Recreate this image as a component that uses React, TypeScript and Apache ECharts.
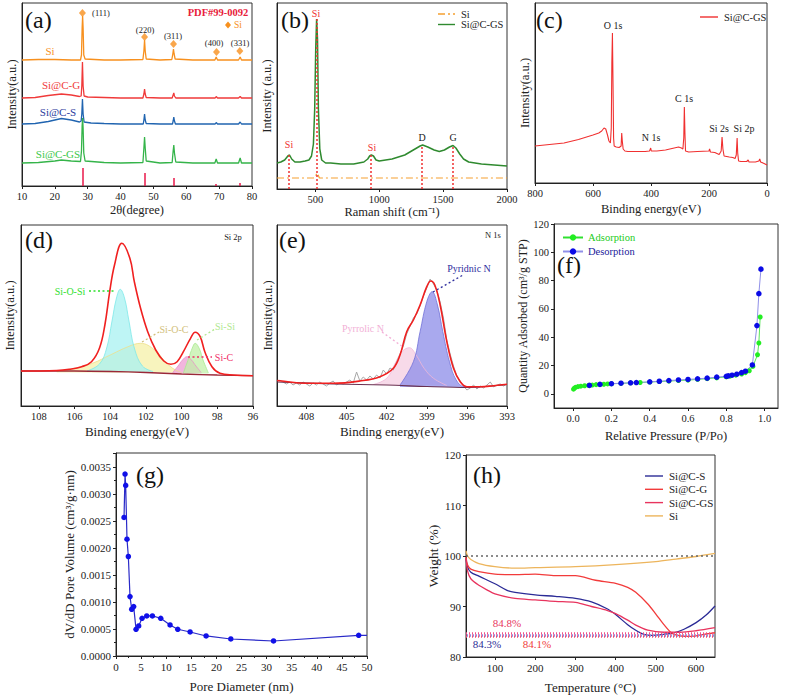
import React, { useEffect, useRef } from "react";
import * as echarts from "echarts";

const FONT = "Liberation Serif";

// ---------- (a) XRD ----------
const xrdSi = [[10,126],[15,126.5],[20,126.5],[25,126],[27.8,126],[28.1,131],[28.3,158],[28.45,170],[28.6,158],[28.8,131],[29.2,127],[35,126],[40,126],[46.8,126.5],[47.1,135],[47.3,146],[47.5,135],[47.8,127],[52,126],[55.6,126.5],[55.9,132],[56.1,137],[56.3,132],[56.6,127],[62,126],[68.7,126],[69.1,129],[69.5,126],[75.9,126],[76.4,129],[76.8,126],[80,126]];
const xrdSiCG = [[10,88],[14,88.5],[18,90.5],[22,92],[25,91],[27.5,89.5],[28.0,90],[28.2,100],[28.4,124],[28.6,100],[28.9,90],[30,89],[35,88.5],[40,88],[46.8,88],[47.1,92],[47.3,97],[47.5,92],[47.8,88.5],[52,88],[55.7,88],[56.0,91],[56.2,93],[56.4,90],[56.8,88],[62,88],[68.8,88],[69.1,89.5],[69.5,88],[75.9,88],[76.4,89.5],[76.8,88],[80,88]];
const xrdSiCS = [[10,62],[14,62.5],[18,64.5],[22,67.5],[25,66],[27.5,64],[28.0,65],[28.2,72],[28.4,87],[28.6,72],[28.9,64],[31,63],[35,62.5],[40,62],[46.9,62],[47.1,66],[47.3,72],[47.5,66],[47.8,62.5],[52,62],[55.8,62],[56.0,65],[56.2,69],[56.4,65],[56.7,62],[62,62],[68.8,62],[69.1,63.5],[69.5,62],[75.9,62],[76.4,64],[76.8,62],[80,62]];
const xrdSiCGS = [[10,23],[15,23.5],[20,25],[22,26],[25,25],[27.8,24.5],[28.1,35],[28.3,60],[28.45,68],[28.6,58],[28.8,33],[29.2,25],[35,23.5],[40,23],[46.8,23.5],[47.1,38],[47.3,49],[47.5,38],[47.8,25],[52,23],[55.7,23.5],[56.0,35],[56.2,41],[56.4,33],[56.8,24],[62,23],[68.7,23],[69.1,27],[69.5,23],[75.9,23],[76.4,28],[76.8,23],[80,23]];
const xrdRefSticks = [[28.4,18],[47.3,13],[56.1,8],[69.1,2],[76.4,3]];
const xrdMarkers = [[28.4,173],[47.3,149],[56.1,142],[69.2,134],[76.3,135]];

// ---------- (b) Raman ----------
const ramanSiCGS = [[200,26],[230,27],[260,29],[285,33],[298,34],[315,30],[340,27],[380,27],[420,28],[450,29],[470,33],[485,45],[495,80],[503,140],[510,170],[517,150],[524,80],[535,40],[550,29],[580,26],[620,26],[700,25],[800,25],[880,27],[910,30],[925,33],[938,34],[955,33],[975,29],[1000,28],[1100,30],[1200,34],[1280,40],[1320,43],[1340,44],[1380,42],[1430,39],[1470,37.5],[1510,39],[1550,42],[1578,43.5],[1600,41],[1630,35],[1660,30],[1700,27],[1800,25],[1900,24],[2000,23]];
const ramanSi = [[200,11],[485,11],[500,12],[512,16],[522,14],[532,11],[2000,11]];
const ramanPeakLines = [[293,34],[513,170],[937,34],[1333,44],[1575,43.5]];

// ---------- (c) XPS survey ----------
const xpsSurvey = [[800,37],[750,38.5],[700,40],[650,43.5],[600,48],[580,50],[570,52],[562,55],[556,54],[550,48],[545,42],[540,40],[537,55],[535,120],[533,150],[531,100],[529,45],[527,37],[520,36],[510,35.5],[503,37],[501,50],[499,42],[496,34],[490,32],[480,31.5],[450,31.5],[420,31.5],[405,32],[401,35],[399,32],[380,32],[350,33],[320,35],[305,36],[295,35],[290,34],[287,45],[285,76],[283,50],[281,32],[270,31],[240,31.5],[200,32],[198,34],[195,31],[180,30.5],[165,28.5],[158,32],[155,46],[152,34],[148,27],[130,26],[118,25.5],[110,24.5],[106,28],[103,45],[101,30],[98,22],[90,21.5],[70,21.5],[65,23],[62,21],[40,21],[28,22],[25,24],[22,21],[10,19.5],[0,18]];

// ---------- (d) Si 2p ----------
const si2pEnvelope = [[109,35],[107,35.5],[106.3,36.7],[105.6,39.3],[105.05,44.3],[104.6,58],[104.3,81],[104.03,114.3],[103.76,141],[103.35,162.7],[102.9,147.7],[102.65,124.3],[102.3,97.7],[101.9,74.3],[101.45,56],[101,45],[100.6,41.7],[100.25,44.3],[99.9,54.3],[99.5,67.7],[99.24,73.7],[98.96,69.3],[98.7,54.3],[98.3,39.3],[97.85,32.7],[97.1,31],[96,30.3]];
const si2pBackground = [[109,35],[106,35],[104,34.5],[102,33.5],[100,32],[98,31],[96,30.3]];
const si2pSiOSi = [[105.3,35],[104.6,42],[104.2,58],[103.9,85],[103.65,108],[103.44,116.7],[103.2,108],[102.95,85],[102.65,58],[102.2,40],[101.6,34.5]];
const si2pSiOC = [[107,35],[106,37.7],[105,42.7],[104,51],[103,59.3],[102.3,62.7],[101.5,56],[101,46],[100.5,37.7],[100,33.5]];
const si2pSiC = [[100.5,33.5],[100.2,40],[99.95,46],[99.7,49.3],[99.45,46],[99.2,40],[98.9,33.5]];
const si2pSiSi = [[99.9,33],[99.6,48],[99.4,58],[99.24,62.7],[99.0,57],[98.8,46],[98.5,33]];

// ---------- (e) N 1s ----------
const n1sRaw = [[410,26],[409.75,24],[409.5,22],[409.25,24],[409,21],[408.75,23],[408.5,21],[408.25,24],[408,22],[407.75,20],[407.5,23],[407.25,21],[407,24],[406.75,22],[406.5,20],[406.25,23],[406,25],[405.75,21],[405.5,23],[405.25,22],[405,24],[404.75,26],[404.5,23],[404.25,34],[404,25],[403.75,29],[403.5,26],[403.25,30],[403,27],[402.75,31],[402.5,28],[402.25,36],[402,32],[401.75,38],[401.5,36],[401.25,45],[401,52],[400.75,60],[400.5,72],[400.25,80],[400,88],[399.75,92],[399.5,100],[399.25,110],[399,118],[398.75,127],[398.5,122],[398.25,116],[398,104],[397.75,88],[397.5,66],[397.25,52],[397,40],[396.75,30],[396.5,25],[396.25,20],[396,16],[395.75,18],[395.5,21],[395.25,17],[395,20],[394.75,18],[394.5,21],[394.25,24],[394,19],[393.75,21],[393.5,22],[393.25,20],[393,22]];
const n1sEnvelope = [[410.2,25.5],[410,25.3],[408,22.7],[406,22.7],[404,25],[402.5,29.3],[401.5,37.7],[401,51],[400.5,74.3],[400,86],[399.5,101],[399,119.3],[398.7,125],[398.4,121],[398,101],[397.5,64.3],[397,37.7],[396.5,24.3],[396,19.3],[395,19.3],[394,20.3],[393,21.7]];
const n1sBackground = [[410.2,24],[406,22],[402,21],[399,19.5],[396,18.5],[393,21.5]];
const n1sPyridinic = [[401,21],[400,44.3],[399.5,74.3],[399,104.3],[398.6,114.3],[398.2,101],[397.8,74.3],[397.3,44.3],[396.8,26],[396.2,19.3],[395,18.7]];
const n1sPyrrolic = [[403,21.5],[402,27.7],[401.3,44.3],[400.8,55],[400.3,58.3],[399.8,51],[399.2,37.7],[398.5,27.7],[397.5,20.5]];

// ---------- (f) N2 isotherm ----------
const adsorption = [[0.002,3.3],[0.006,4.0],[0.012,4.6],[0.025,5.1],[0.04,5.4],[0.06,5.7],[0.08,6.0],[0.1,6.2],[0.12,6.5],[0.14,6.6],[0.16,6.8],[0.18,7.0],[0.2,7.1],[0.25,7.4],[0.3,7.7],[0.35,8.0],[0.4,8.3],[0.45,8.7],[0.5,9.0],[0.55,9.4],[0.6,9.7],[0.65,10.2],[0.7,10.7],[0.75,11.3],[0.8,12.0],[0.82,12.5],[0.85,13.2],[0.88,14.0],[0.9,15.0],[0.92,16.3],[0.939,19.4],[0.963,27.6],[0.970,35.9],[0.977,54.3]];
const desorption = [[0.981,88.1],[0.970,70.8],[0.960,48.2],[0.936,20.4],[0.9,16.0],[0.88,15.0],[0.855,13.9],[0.83,13.2],[0.81,12.7],[0.8,12.4],[0.75,11.8],[0.7,11.1],[0.65,10.6],[0.6,10.2],[0.55,9.8],[0.5,9.4],[0.45,8.9],[0.4,8.5],[0.33,8.0],[0.3,7.8],[0.25,7.5],[0.2,7.2],[0.14,6.7],[0.085,6.0]];

// ---------- (g) pore size distribution ----------
const poreDist = [[1.6,0.002566],[1.8,0.00337],[1.93,0.00316],[2.19,0.002164],[2.46,0.001843],[2.79,0.0011],[3.13,0.000866],[3.52,0.000915],[3.99,0.000495],[4.52,0.000557],[5.19,0.000699],[6.12,0.000742],[7.25,0.000742],[8.91,0.000699],[10.77,0.000575],[12.3,0.000495],[14.76,0.000445],[17.95,0.000371],[22.87,0.000315],[31.38,0.000278],[48.34,0.000383]];
const poreTail = [[48.34,0.000383],[50,0.000383]];

// ---------- (h) TGA ----------
const tgaSiCS = [[28,99.5],[32,97.8],[40,96.8],[60,96],[100,94.5],[130,93.2],[150,92.8],[200,92.3],[250,92.0],[300,91.6],[340,90.9],[380,89.5],[400,88.4],[430,86.4],[450,85.3],[470,84.5],[490,84.3],[520,84.5],[545,84.8],[570,85.5],[600,86.8],[625,88.3],[647,90.1]];
const tgaSiCG = [[28,99.8],[32,98.2],[40,97.4],[60,96.9],[100,96.4],[150,96.3],[200,96.4],[250,96.1],[300,96.1],[350,95.2],[400,94.6],[430,93.8],[450,92.8],[480,90.5],[500,88.5],[520,86.4],[540,84.7],[560,84.2],[580,84.1],[600,84.2],[620,84.5],[647,84.8]];
const tgaSiCGS = [[28,99.6],[32,97],[40,95.5],[60,94.2],[80,93.3],[100,92.5],[150,91.6],[200,91.3],[250,91.0],[300,90.8],[340,90.0],[380,89.2],[400,88.6],[430,87.3],[450,86.3],[480,85.3],[520,84.9],[560,84.9],[600,85.2],[647,85.8]];
const tgaSi = [[28,101],[32,100],[40,99.3],[60,98.5],[100,97.9],[150,97.6],[200,97.7],[300,97.9],[400,98.3],[500,98.9],[550,99.4],[600,99.9],[647,100.5]];
const tgaResidues = [[84.8,"#F0508A",0],[84.3,"#8C8CE6",1.5],[84.1,"#F05070",0]];

// legend entries (name, colour, dash)
const legendB = [["Si", "#F5A030", [7, 3, 2, 3]], ["Si@C-GS", "#2F8A2F", null]];
const legendC = [["Si@C-GS", "#F03030", null]];
const legendH = [["Si@C-S", "#2B2B96", null], ["Si@C-G", "#F23B3B", null], ["Si@C-GS", "#E8345E", null], ["Si", "#EDB55C", null]];

const nameOf = (n: string) => n.split(":")[1];

function T(x: number, y: number, text: string, fill = "#222", size = 11, align = "center", weight = "normal") {
  return {
    type: "text", x, y, z: 100, silent: true,
    style: { text, fill, fontFamily: FONT, fontSize: size, fontWeight: weight, textAlign: align, textVerticalAlign: "middle", align, verticalAlign: "middle" },
  };
}
function DL(x1: number, y1: number, x2: number, y2: number, stroke: string) {
  return { type: "line", z: 100, silent: true, shape: { x1, y1, x2, y2 }, style: { stroke, lineWidth: 1.3, lineDash: [2, 2.5] } };
}
function legendBlock(items: any[], x: number, y: number, step: number, lineLen: number, size: number) {
  const out: any[] = [];
  items.forEach(([name, color, dash], i) => {
    const yy = y + i * step;
    out.push({ type: "line", z: 100, silent: true, shape: { x1: x, y1: yy, x2: x + lineLen, y2: yy },
      style: { stroke: color, lineWidth: 1.4, lineDash: dash || null } });
    out.push(T(x + lineLen + 6, yy, name, "#222", size, "left"));
  });
  return out;
}

export default function App() {
  const ref = useRef<HTMLDivElement>(null);
  useEffect(() => {
    if (!ref.current) return;
    const chart = echarts.init(ref.current, null, { renderer: "svg" });

    const gridPos = [
      { left: 22, top: 3, width: 230, height: 183 },
      { left: 277, top: 3, width: 230, height: 186 },
      { left: 535, top: 3, width: 232, height: 180 },
      { left: 21, top: 225, width: 232, height: 181 },
      { left: 277, top: 225, width: 230, height: 181 },
      { left: 554, top: 224, width: 224, height: 184 },
      { left: 116, top: 453, width: 251, height: 203 },
      { left: 466, top: 455, width: 249, height: 202 },
    ];
    const grid = gridPos.map((g) => ({ ...g, show: true, borderColor: "#333", borderWidth: 1, backgroundColor: "transparent", containLabel: false, outerBoundsMode: "none" }));

    const lab = { fontFamily: FONT, fontSize: 11, color: "#222", margin: 5 };
    const nts = { fontFamily: FONT, fontSize: 13, color: "#222" };
    const base = (gi: number, o: any) => ({
      type: "value", gridIndex: gi, nameLocation: "middle",
      axisLine: { show: true, onZero: false, lineStyle: { color: "#222", width: 1 } },
      axisTick: { show: true, length: 3, lineStyle: { color: "#222" } },
      splitLine: { show: false },
      ...o,
      axisLabel: { ...lab, ...(o.axisLabel || {}) },
      nameTextStyle: { ...nts, ...(o.nameTextStyle || {}) },
    });
    const hiddenY = (gi: number, max: number, name: string, gap = 4) =>
      base(gi, { min: 0, max, name, nameGap: gap, axisLabel: { show: false }, axisTick: { show: false }, nameTextStyle: { fontSize: 12.5 } });
    const tk = (vals: number[]) => ({ show: true, length: 3, customValues: vals, lineStyle: { color: "#222" } });

    const xAxis = [
      base(0, { min: 10, max: 80, interval: 10, name: "2θ(degree)", nameGap: 17, nameTextStyle: { fontSize: 12.5 }, axisLabel: { fontSize: 10.5 } }),
      base(1, { min: 200, max: 2000, name: "Raman shift (cm⁻¹)", nameGap: 16, nameTextStyle: { fontSize: 12.5 },
        axisLabel: { fontSize: 10.5, customValues: [500, 1000, 1500, 2000], formatter: (v: number) => String(v) }, axisTick: tk([500, 1000, 1500, 2000]) }),
      base(2, { min: 0, max: 800, interval: 200, inverse: true, name: "Binding energy(eV)", nameGap: 19, nameTextStyle: { fontSize: 12.5 }, axisLabel: { fontSize: 10.5 } }),
      base(3, { min: 96, max: 109, inverse: true, name: "Binding energy(eV)", nameGap: 19,
        axisLabel: { fontSize: 10.5, customValues: [96, 98, 100, 102, 104, 106, 108] }, axisTick: tk([96, 98, 100, 102, 104, 106, 108]) }),
      base(4, { min: 393, max: 410.2, interval: 3, inverse: true, name: "Binding energy(eV)", nameGap: 19, axisLabel: { fontSize: 10.5, showMaxLabel: false } }),
      base(5, { min: -0.1, max: 1.07, name: "Relative Pressure (P/Po)", nameGap: 21, nameTextStyle: { fontSize: 12.5 },
        axisLabel: { fontSize: 10.5, customValues: [0, 0.2, 0.4, 0.6, 0.8, 1.0], formatter: (v: number) => v.toFixed(1) }, axisTick: tk([0, 0.2, 0.4, 0.6, 0.8, 1.0]) }),
      base(6, { min: 0, max: 50, interval: 5, name: "Pore Diameter (nm)", nameGap: 24, minorTick: { show: true, splitNumber: 2, length: 2 } }),
      base(7, { min: 28, max: 647, name: "Temperature (°C)", nameGap: 24,
        axisLabel: { customValues: [100, 200, 300, 400, 500, 600] }, axisTick: tk([100, 200, 300, 400, 500, 600]) }),
    ];
    const yAxis = [
      hiddenY(0, 183, "Intensity(a.u.)"),
      hiddenY(1, 186, "Intensity (a.u.)"),
      hiddenY(2, 180, "Intensity(a.u.)"),
      hiddenY(3, 181, "Intensity(a.u.)", 5),
      hiddenY(4, 181, "Intensity(a.u.)", 3),
      base(5, { min: -10, max: 120, name: "Quantity Adsorbed (cm³/g STP)", nameGap: 22, nameTextStyle: { fontSize: 12 },
        axisLabel: { fontSize: 10.5, customValues: [0, 20, 40, 60, 80, 100, 120] }, axisTick: tk([0, 20, 40, 60, 80, 100, 120]) }),
      base(6, { min: 0, max: 0.00376, interval: 0.0005, name: "dV/dD Pore Volume (cm³/g·nm)", nameGap: 40,
        axisLabel: { showMaxLabel: false, formatter: (v: number) => v.toFixed(4) }, minorTick: { show: true, splitNumber: 2, length: 2 } }),
      base(7, { min: 80, max: 120, interval: 10, name: "Weight (%)", nameGap: 24, nameTextStyle: { fontSize: 13.5 } }),
    ];

    const L = (name: string, gi: number, data: any[], color: string, width = 1.2, extra: any = {}) => ({
      type: "line", name, xAxisIndex: gi, yAxisIndex: gi, data, symbol: "none", silent: true,
      lineStyle: { color, width }, itemStyle: { color }, ...extra,
    });
    const A = (name: string, gi: number, data: any[], line: string, fill: string, origin: number, opacity = 0.7) =>
      L(name, gi, data, line, 0.8, { smooth: 0.4, areaStyle: { color: fill, opacity, origin } });

    const series: any[] = [
      // (a)
      L("a:Si", 0, xrdSi, "#F7901E", 1.3),
      L("a:Si@C-G", 0, xrdSiCG, "#F03A3A", 1.3),
      L("a:Si@C-S", 0, xrdSiCS, "#2064B0", 1.3),
      L("a:Si@C-GS", 0, xrdSiCGS, "#35B44A", 1.3, {
        markLine: { silent: true, symbol: ["none", "none"], label: { show: false },
          lineStyle: { color: "#E8194A", width: 1.5, type: "solid" },
          data: xrdRefSticks.map(([x, h]) => [{ coord: [x, 0] }, { coord: [x, h] }]) },
      }),
      { type: "scatter", name: "a:markers", xAxisIndex: 0, yAxisIndex: 0, data: xrdMarkers, symbol: "diamond", symbolSize: [7, 8], itemStyle: { color: "#F7901E" }, silent: true },
      // (b)
      L("b:Si", 1, ramanSi, "#F5A030", 1.2, { lineStyle: { color: "#F5A030", width: 1.2, type: [7, 3, 2, 3] } }),
      L("b:Si@C-GS", 1, ramanSiCGS, "#2F8A2F", 1.5, {
        markLine: { silent: true, symbol: ["none", "none"], label: { show: false },
          lineStyle: { color: "#F03030", width: 1.5, type: [2, 2] },
          data: ramanPeakLines.map(([x, h]) => [{ coord: [x, 0] }, { coord: [x, h] }]) },
      }),
      // (c)
      L("c:Si@C-GS", 2, xpsSurvey, "#F03030", 1.1),
      // (d)
      A("d:SiOC", 3, si2pSiOC, "#EDE08A", "#F6F0A8", 33.5, 0.75),
      A("d:SiOSi", 3, si2pSiOSi, "#7EE8E8", "#A8F2F2", 34, 0.75),
      A("d:SiC", 3, si2pSiC, "#E890C8", "#F0A8D8", 32.5, 0.85),
      A("d:SiSi", 3, si2pSiSi, "#A8E890", "#C2F0A8", 32.5, 0.75),
      L("d:bg", 3, si2pBackground, "#9A2838", 1.3, { smooth: 0.3 }),
      L("d:env", 3, si2pEnvelope, "#F02020", 1.6, { smooth: 0.4 }),
      // (e)
      L("e:raw", 4, n1sRaw, "#A8A8A8", 1),
      A("e:pyrrolic", 4, n1sPyrrolic, "#F0B8D8", "#F4CDE2", 21, 0.75),
      A("e:pyridinic", 4, n1sPyridinic, "#7070D8", "#8C8CE8", 19, 0.75),
      L("e:bg", 4, n1sBackground, "#6A3050", 1.2, { smooth: 0.3 }),
      L("e:env", 4, n1sEnvelope, "#F02020", 1.6, { smooth: 0.4 }),
      // (f)
      { type: "line", name: "f:Adsorption", xAxisIndex: 5, yAxisIndex: 5, data: adsorption, symbol: "circle", symbolSize: 5, silent: true,
        lineStyle: { color: "#30E030", width: 0.8 }, itemStyle: { color: "#22EE22" } },
      { type: "line", name: "f:Desorption", xAxisIndex: 5, yAxisIndex: 5, data: desorption, symbol: "circle", symbolSize: 5.5, silent: true,
        lineStyle: { color: "#9090E8", width: 1 }, itemStyle: { color: "#0A0AE6" } },
      // (g)
      { type: "line", name: "g:pore", xAxisIndex: 6, yAxisIndex: 6, data: poreDist, symbol: "circle", symbolSize: 5.5, silent: true,
        lineStyle: { color: "#2A2AC8", width: 1.2 }, itemStyle: { color: "#1010E8" } },
      L("g:tail", 6, poreTail, "#2A2AC8", 1.2),
      // (h)
      L("h:Si@C-S", 7, tgaSiCS, "#2B2B96", 1.3, { smooth: 0.3 }),
      L("h:Si@C-G", 7, tgaSiCG, "#F23B3B", 1.3, { smooth: 0.3 }),
      L("h:Si@C-GS", 7, tgaSiCGS, "#E8345E", 1.3, { smooth: 0.3 }),
      L("h:Si", 7, tgaSi, "#EDB55C", 1.3, { smooth: 0.3,
        markLine: { silent: true, symbol: ["none", "none"], label: { show: false },
          data: [
            { yAxis: 100, lineStyle: { color: "#666", width: 1.5, type: [2, 3] } },
            ...tgaResidues.map(([v, c, off]) => ({ yAxis: v, lineStyle: { color: c, width: 2.5, type: [1, 2], dashOffset: off } })),
          ] },
      }),
    ];

    const legendText = { fontFamily: FONT, fontSize: 10.5, color: "#222" };
    const legend = [
      { left: 557, top: 227, orient: "vertical", itemWidth: 20, itemHeight: 8, itemGap: 3, textStyle: legendText, formatter: nameOf, selectedMode: false,
        data: [{ name: "f:Adsorption", textStyle: { color: "#22CC22" } }, { name: "f:Desorption", textStyle: { color: "#20209A" } }] },
    ];

    const graphic = [
      // (a)
      T(25, 20, "(a)", "#111", 24, "left"),
      T(101, 13, "(111)", "#222", 8.5),
      T(145, 30, "(220)", "#222", 8.5),
      T(173, 36, "(311)", "#222", 8.5),
      T(214, 43, "(400)", "#222", 8.5),
      T(240, 43, "(331)", "#222", 8.5),
      T(218, 12, "PDF#99-0092", "#E8203A", 10.5, "center", "bold"),
      { type: "polygon", z: 100, silent: true, shape: { points: [[228, 21.5], [231, 25], [228, 28.5], [225, 25]] }, style: { fill: "#F7901E" } },
      T(234, 25, "Si", "#F7901E", 9.5, "left"),
      T(50, 51, "Si", "#F7901E", 11),
      T(61, 85, "Si@C-G", "#F03A3A", 11),
      T(58, 112, "Si@C-S", "#2B3A9C", 11),
      T(58, 154, "Si@C-GS", "#3CC84A", 11),
      // (b)
      T(281, 20, "(b)", "#111", 24, "left"),
      T(289, 144, "Si", "#F03030", 10),
      T(316, 13, "Si", "#F03030", 10),
      T(372, 147, "Si", "#F03030", 10),
      T(422, 137, "D", "#222", 10),
      T(453, 137, "G", "#222", 10),
      ...legendBlock(legendB, 438, 14, 10.5, 17, 10.5),
      // (c)
      T(536, 20, "(c)", "#111", 24, "left"),
      T(613, 25, "O 1s", "#222", 10),
      T(684, 98, "C 1s", "#222", 10),
      T(651, 137, "N 1s", "#222", 10),
      T(719, 128, "Si 2s", "#222", 10),
      T(744, 128, "Si 2p", "#222", 10),
      ...legendBlock(legendC, 700, 17, 10, 18, 10.5),
      // (d)
      T(25, 240, "(d)", "#111", 24, "left"),
      T(233, 237, "Si 2p", "#222", 8.5),
      T(70, 291, "Si-O-Si", "#2EE02E", 10),
      DL(89, 291, 116, 291, "#2EE02E"),
      T(174, 329, "Si-O-C", "#D2C07A", 10),
      DL(142, 342, 159, 332, "#D2C07A"),
      T(225, 326, "Si-Si", "#B0E890", 10),
      DL(197, 340, 215, 329, "#B0E890"),
      T(224, 357, "Si-C", "#F0306A", 10),
      DL(188, 357, 212, 357, "#F0306A"),
      // (e)
      T(279, 240, "(e)", "#111", 24, "left"),
      T(493, 235, "N 1s", "#222", 8.5),
      T(469, 268, "Pyridnic N", "#2E2E9E", 10),
      DL(433, 292, 463, 275, "#2E2E9E"),
      T(363, 328, "Pyrrolic N", "#F2B0D6", 10),
      DL(382, 332, 403, 347, "#F2B0D6"),
      // (f)
      T(557, 265, "(f)", "#111", 24, "left"),
      // (g)
      T(136, 475, "(g)", "#111", 24, "left"),
      // (h)
      T(473, 475, "(h)", "#111", 24, "left"),
      ...legendBlock(legendH, 645, 476, 13.3, 18, 11),
      T(507, 623, "84.8%", "#E8345E", 11),
      T(487, 644, "84.3%", "#2B2B96", 11),
      T(537, 644, "84.1%", "#F03A3A", 11),
    ];

    chart.setOption({
      animation: false,
      backgroundColor: "#fff",
      textStyle: { fontFamily: FONT },
      grid, xAxis, yAxis, series, legend, graphic,
    } as any);
    return () => chart.dispose();
  }, []);

  return <div ref={ref} style={{ position: "absolute", left: 0, top: 0, width: 786, height: 698, background: "#fff" }} />;
}
